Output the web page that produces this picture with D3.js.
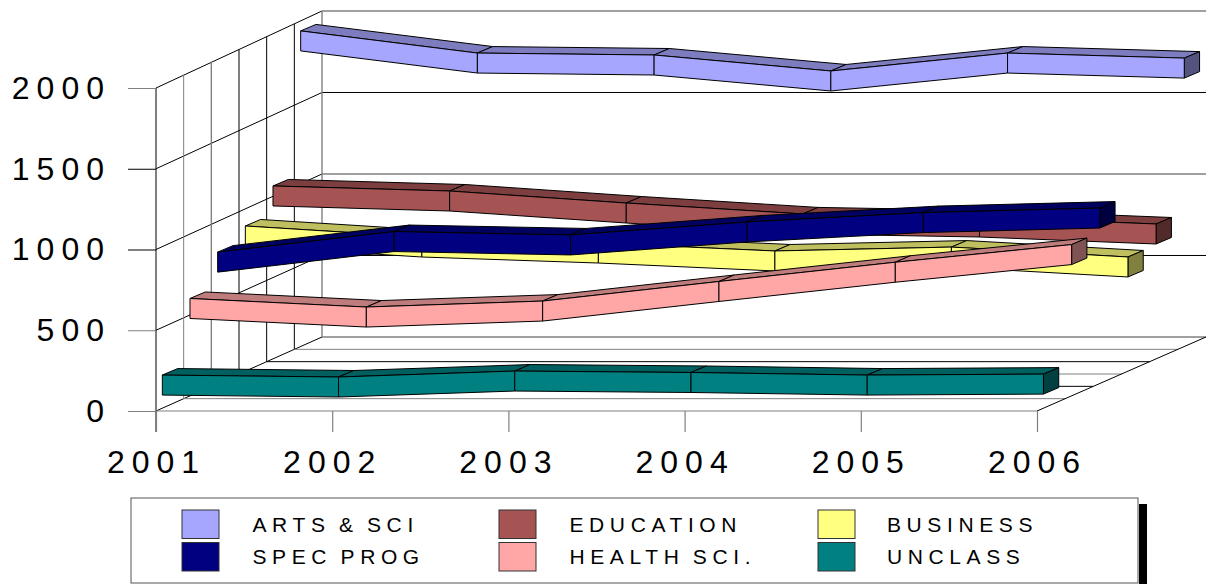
<!DOCTYPE html>
<html>
<head>
<meta charset="utf-8">
<script src="https://cdn.jsdelivr.net/npm/d3@7/dist/d3.min.js"></script>
<style>
html,body{margin:0;padding:0;background:#fff;overflow:hidden}
svg{display:block}
text{font-family:"Liberation Sans",Arial,sans-serif;fill:#000}
</style>
</head>
<body>
<svg id="chart" width="1206" height="584"></svg>
<script>
// Data
const years = ["2001","2002","2003","2004","2005","2006"];
const yTicks = [0,500,1000,1500,2000];
const artsSci  = [1877,1741,1729,1631,1741,1710];
const education= [1002,971,897,830,811,768];
const business = [833,765,728,679,703,642];
const specProg = [749,876,855,935,993,1021];
const healthSci= [540,487,524,645,764,873];
const unclass  = [143,131,168,159,143,149];
const names  = ["ARTS & SCI","EDUCATION","BUSINESS","SPEC PROG","HEALTH SCI.","UNCLASS"];
const fronts = ["#A6A6FF","#A65353","#FFFF80","#000080","#FFA6A6","#008080"];
const tops   = ["#7C7CBF","#7C3E3E","#BFBF60","#000060","#BF7C7C","#006060"];
const sides  = ["#53537F","#532A2A","#80803F","#000040","#7F5353","#004040"];
const seriesValues = [artsSci,education,business,specProg,healthSci,unclass];

const svg = d3.select("#chart");
const x = d3.scalePoint().domain(years).range([156,1037]);
const y = d3.scaleLinear().domain([0,2000]).range([411,88]);
const depthX = d3.scaleLinear().domain([0,6]).range([0,166]);
const depthY = d3.scaleLinear().domain([0,6]).range([0,-74]);
// slight perspective: the back of the box is a little larger than the front
const growX = d3.scaleLinear().domain([0,6]).range([1,1.0034]);
const growY = d3.scaleLinear().domain([0,6]).range([1,1.0093]);
const P = (yr,v,d)=>[
  156+depthX(d)+(x(yr)-156)*growX(d),
  411+depthY(d)-(411-y(v))*growY(d)
];
const GRAY="#808080", BLK="#000";

// Walls and floor
const grid = svg.append("g").attr("fill","none");
const line=(a,b,c=BLK,w=1)=>grid.append("line").attr("x1",a[0]).attr("y1",a[1]).attr("x2",b[0]).attr("y2",b[1]).attr("stroke",c).attr("stroke-width",w);
const first=years[0], last=years[years.length-1];
const backColors = [GRAY,BLK,GRAY,BLK,GRAY];
yTicks.forEach((v,i)=>{
  line(P(first,v,0),P(first,v,6),BLK,1);
  line(P(first,v,6),P(last,v,6),backColors[i],i%2?1:1.4);
});
const vertColors=[BLK,GRAY,GRAY,BLK,BLK,BLK,GRAY];
d3.range(1,7).forEach(d=>{
  line(P(first,0,d),P(first,2000,d),vertColors[d],d===2||d===6?1.4:1);
});
const floorColors=[GRAY,GRAY,BLK,GRAY,BLK,GRAY];
d3.range(1,6).forEach(d=>{
  line(P(first,0,d),P(last,0,d),floorColors[d],1);
});
line(P(last,0,0),P(last,0,6),BLK,1);

// Axes
const FONT='"Liberation Sans",Arial,sans-serif';
const axL = svg.append("g").attr("transform","translate(156,0)")
  .call(d3.axisLeft(y).tickValues(yTicks).tickSize(28).tickPadding(17).tickFormat(d3.format("d")));
axL.select(".domain").attr("stroke",BLK).attr("d","M0,88V432");
axL.selectAll(".tick line").attr("stroke",(d,i)=>[GRAY,GRAY,BLK,BLK,GRAY][i]);
axL.selectAll("text").attr("font-size",32).attr("letter-spacing",7).attr("dy","0.32em").attr("font-family",FONT);
const axB = svg.append("g").attr("transform","translate(0,411)")
  .call(d3.axisBottom(x).tickSize(21).tickPadding(18.5));
axB.select(".domain").attr("stroke",GRAY).attr("stroke-width",1.2).attr("d","M156,0H1037");
axB.selectAll(".tick line").attr("stroke",GRAY).attr("stroke-width",1.2);
axB.selectAll("text").attr("font-size",32).attr("letter-spacing",7).attr("dy","0.71em").attr("font-family",FONT);

// Ribbons: back to front; slots count from the front
const halfH = 10, gap = 6.33, ribDX = 15.3, ribDY = -6.5;
const n = seriesValues.length;
const poly=(g,pts,fill)=>g.append("polygon").attr("points",pts.map(p=>p.join(",")).join(" "))
  .attr("fill",fill).attr("stroke","#000").attr("stroke-width",1).attr("stroke-linejoin","round");
seriesValues.forEach((vals,s)=>{
  const slot = n-1-s;
  const d0 = slot + depthX.invert(gap);
  const g = svg.append("g").attr("class","series");
  const pts = vals.map((v,i)=>P(years[i],v,d0));
  d3.pairs(pts).forEach(([a,b])=>{
    poly(g,[[a[0],a[1]-halfH],[b[0],b[1]-halfH],[b[0]+ribDX,b[1]-halfH+ribDY],[a[0]+ribDX,a[1]-halfH+ribDY]],tops[s]);
  });
  const e=pts[pts.length-1];
  poly(g,[[e[0],e[1]-halfH],[e[0]+ribDX,e[1]-halfH+ribDY],[e[0]+ribDX,e[1]+halfH+ribDY],[e[0],e[1]+halfH]],sides[s]);
  d3.pairs(pts).forEach(([a,b])=>{
    poly(g,[[a[0],a[1]-halfH],[b[0],b[1]-halfH],[b[0],b[1]+halfH],[a[0],a[1]+halfH]],fronts[s]);
  });
});

// Legend
const lg = svg.append("g");
lg.append("rect").attr("x",1139).attr("y",504).attr("width",8).attr("height",80).attr("fill","#000");
lg.append("rect").attr("x",131).attr("y",498).attr("width",1007).attr("height",85).attr("fill","#fff").attr("stroke","#555").attr("stroke-width",1);
const colX = d3.scaleOrdinal().domain([0,1,2]).range([182,499,818]);
const textX = d3.scaleOrdinal().domain([0,1,2]).range([252.5,569.5,887]);
const rowY = d3.scaleOrdinal().domain([0,1]).range([510,542.5]);
names.forEach((nm,i)=>{
  const c=i%3, r=Math.floor(i/3);
  lg.append("rect").attr("x",colX(c)).attr("y",rowY(r)).attr("width",37).attr("height",28.5)
    .attr("fill",fronts[i]).attr("stroke","#333").attr("stroke-width",1);
  lg.append("text").attr("x",textX(c)).attr("y",rowY(r)+21.5)
    .attr("font-size",21).attr("letter-spacing",5.6).attr("word-spacing",-3).text(nm);
});
</script>
</body>
</html>
